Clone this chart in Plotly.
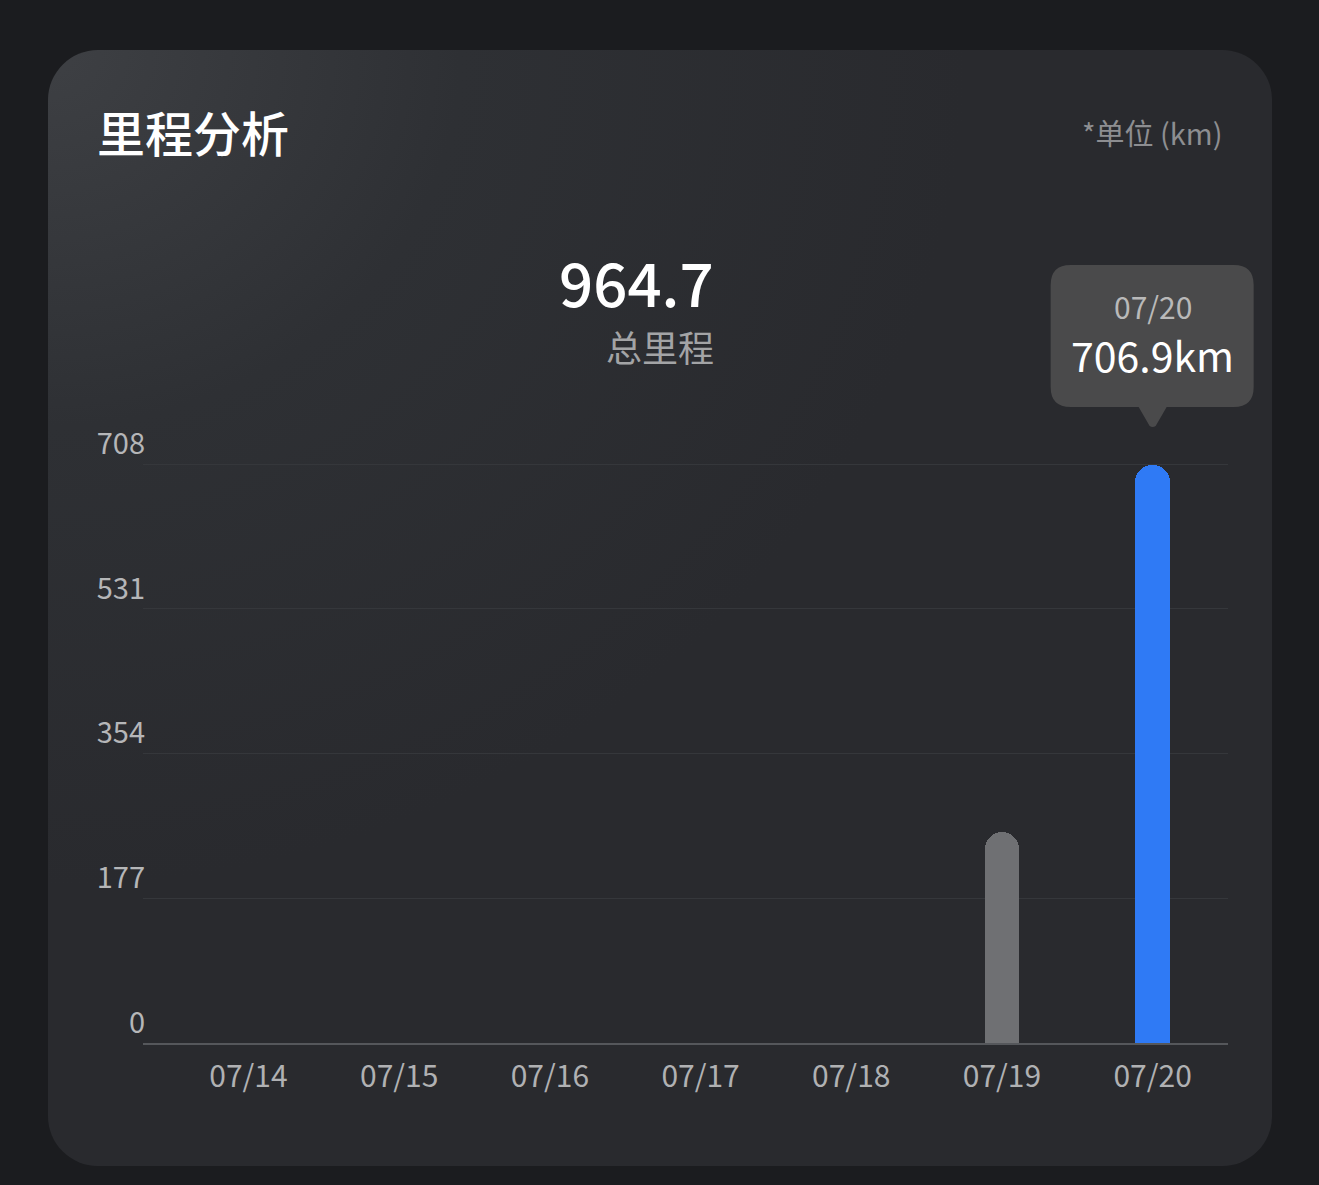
import base64
import plotly.graph_objects as go

# data
dates = ["07/14", "07/15", "07/16", "07/17", "07/18", "07/19", "07/20"]
mileage = [0, 0, 0, 0, 0, 257.8, 706.9]
y_ticks = [0, 177, 354, 531, 708]
total_km = 964.7
selected = 6  # highlighted day (tooltip)

title_text = "里程分析"
unit_text = "*单位 (km)"
total_text = "总里程"

CJK = "Noto Sans CJK SC"
W, H = 1319, 1185
# plot area in pixels (top a bit above the 708 grid line)
L, R, T, B = 143, 1228, 461, 1043
x_range = [-0.7, 6.5]
y_range = [0, 712]
step = (R - L) / (x_range[1] - x_range[0])


def px(x):
    return (x - L) / (R - L)


def py(y):
    return (B - y) / (B - T)


def rounded_path(x0, y0, x1, y1, r, pointer=None):
    # pixel coords -> paper path, quadratic corners
    p = []
    p.append(f"M {px(x0 + r)},{py(y0)}")
    p.append(f"L {px(x1 - r)},{py(y0)}")
    p.append(f"Q {px(x1)},{py(y0)} {px(x1)},{py(y0 + r)}")
    p.append(f"L {px(x1)},{py(y1 - r)}")
    p.append(f"Q {px(x1)},{py(y1)} {px(x1 - r)},{py(y1)}")
    if pointer:
        cx, half, tip = pointer
        p.append(f"L {px(cx + half)},{py(y1)}")
        p.append(f"L {px(cx + 3)},{py(tip - 2)}")
        p.append(f"Q {px(cx)},{py(tip)} {px(cx - 3)},{py(tip - 2)}")
        p.append(f"L {px(cx - half)},{py(y1)}")
    p.append(f"L {px(x0 + r)},{py(y1)}")
    p.append(f"Q {px(x0)},{py(y1)} {px(x0)},{py(y1 - r)}")
    p.append(f"L {px(x0)},{py(y0 + r)}")
    p.append(f"Q {px(x0)},{py(y0)} {px(x0 + r)},{py(y0)}")
    p.append("Z")
    return " ".join(p)


colors = ["#6f7073"] * len(dates)
colors[selected] = "#2f7af5"

fig = go.Figure()
fig.add_trace(go.Bar(
    x=dates,
    y=mileage,
    width=0.23,
    marker=dict(color=colors, line=dict(width=0), cornerradius="50%"),
    hoverinfo="skip",
))

# card background, lighter in the top-left corner (svg image)
cx0, cy0, cx1, cy1 = 48, 50, 1272, 1166
cw, ch = cx1 - cx0, cy1 - cy0
svg = (f'<svg xmlns="http://www.w3.org/2000/svg" width="{cw}" height="{ch}" '
       f'viewBox="0 0 {cw} {ch}"><defs>'
       '<radialGradient id="g" cx="0" cy="0" r="0.75" fx="0" fy="0">'
       '<stop offset="0" stop-color="#3e4044"/><stop offset="0.45" stop-color="#2e3034"/>'
       '<stop offset="1" stop-color="#292a2e"/></radialGradient></defs>'
       f'<rect width="{cw}" height="{ch}" rx="50" ry="50" fill="url(#g)"/></svg>')
card_src = "data:image/svg+xml;base64," + base64.b64encode(svg.encode()).decode()

images = [dict(source=card_src, xref="paper", yref="paper",
               x=px(cx0), y=py(cy0), sizex=px(cx1) - px(cx0), sizey=py(cy0) - py(cy1),
               xanchor="left", yanchor="top", sizing="stretch", layer="below")]

# tooltip bubble over the selected bar
tip_cx = L + (selected - x_range[0]) * step
shapes = [dict(type="path", xref="paper", yref="paper", layer="above",
               path=rounded_path(tip_cx - 102, 265, tip_cx + 101, 407, 20,
                                 pointer=(tip_cx, 14, 428)),
               fillcolor="#4a4a4b", line=dict(width=0))]

annotations = [
    dict(text=title_text, x=px(95), y=py(131), xanchor="left", yanchor="middle",
         font=dict(family=CJK, size=48, color="#ffffff", weight=500)),
    dict(text=unit_text, x=px(1225), y=py(132), xanchor="right", yanchor="middle",
         font=dict(family=CJK, size=29, color="#8d8e91")),
    dict(text=f"{total_km}", x=px(557), y=py(280), xanchor="left", yanchor="middle",
         font=dict(family=CJK, size=60, color="#ffffff", weight=500)),
    dict(text=total_text, x=px(660), y=py(346), xanchor="center", yanchor="middle",
         font=dict(family=CJK, size=36, color="#a3a4a6")),
    dict(text=dates[selected], x=px(tip_cx), y=py(306), xanchor="center", yanchor="middle",
         font=dict(family=CJK, size=30, color="#b9b9b9")),
    dict(text=f"{mileage[selected]}km", x=px(tip_cx), y=py(354), xanchor="center",
         yanchor="middle", font=dict(family=CJK, size=41, color="#ffffff")),
]
for a in annotations:
    a.update(xref="paper", yref="paper", showarrow=False)

fig.update_layout(
    width=W, height=H,
    margin=dict(l=L, r=W - R, t=T, b=H - B, pad=0),
    paper_bgcolor="#1b1c1f",
    plot_bgcolor="rgba(0,0,0,0)",
    showlegend=False,
    images=images,
    shapes=shapes,
    annotations=annotations,
    bargap=0,
    xaxis=dict(type="category", categoryorder="array", categoryarray=dates,
               range=x_range, showgrid=False, zeroline=False,
               showline=True, linecolor="#55575b", linewidth=2,
               ticks="", ticklabelstandoff=6,
               tickfont=dict(family=CJK, size=30, color="#b0b1b3"),
               fixedrange=True),
    yaxis=dict(range=y_range, tickvals=y_ticks, ticktext=[str(v) for v in y_ticks],
               showgrid=True, gridcolor="#35373b", gridwidth=1, zeroline=False,
               ticks="", ticklabelposition="outside top", ticklabelstandoff=-3,
               tickfont=dict(family=CJK, size=29, color="#b5b6b8"),
               fixedrange=True),
)

fig.write_html("out.html", config={"displayModeBar": False},
               post_script="document.body.style.margin='0';"
                           "document.body.style.background='#1b1c1f';")
